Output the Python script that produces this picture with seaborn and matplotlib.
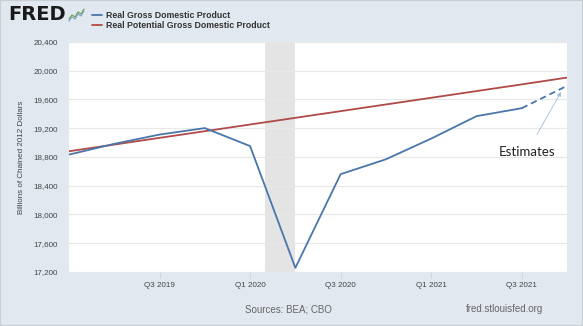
import matplotlib
matplotlib.use("Agg")
import matplotlib.pyplot as plt
import matplotlib.patches as mpatches
import seaborn as sns
import pandas as pd

# Quarterly data, Q1 2019 .. Q4 2021 (billions of chained 2012 dollars)
quarters = ["Q1 2019", "Q2 2019", "Q3 2019", "Q4 2019", "Q1 2020", "Q2 2020",
            "Q3 2020", "Q4 2020", "Q1 2021", "Q2 2021", "Q3 2021", "Q4 2021"]
real_gdp = [18833, 18983, 19112, 19202, 18952, 17258,
            18561, 18768, 19056, 19368, 19479]
gdp_estimate = [19479, 19790]          # Q3 2021 actual -> Q4 2021 estimate
potential_gdp = [18880, 18973, 19066, 19159, 19252, 19345,
                 19438, 19531, 19624, 19717, 19810, 19905]
tick_quarters = ["Q3 2019", "Q1 2020", "Q3 2020", "Q1 2021", "Q3 2021"]
y_ticks = [17200, 17600, 18000, 18400, 18800, 19200, 19600, 20000, 20400]
recession = (4 + 1/3, 5)               # Feb 2020 - Apr 2020

BLUE = "#4a76ab"
RED = "#b04a46"
BG = "#e1e8f0"
TXT = "#444444"

sns.set_theme(style="white")
plt.rcParams["font.family"] = ["Liberation Sans", "DejaVu Sans"]

W, H = 583, 326


def fx(px):
    return px / W


def fy(py):
    return 1 - py / H


idx = {q: i for i, q in enumerate(quarters)}
gdp_df = pd.DataFrame({"x": [idx[q] for q in quarters[:len(real_gdp)]], "y": real_gdp})
est_df = pd.DataFrame({"x": [idx["Q3 2021"], idx["Q4 2021"]], "y": gdp_estimate})
pot_df = pd.DataFrame({"x": list(range(len(quarters))), "y": potential_gdp})

fig = plt.figure(figsize=(W / 100, H / 100), dpi=100, facecolor=BG)
ax = fig.add_axes([fx(69), fy(272), (567 - 69) / W, (272 - 42) / H])
ax.set_facecolor("white")

ax.axvspan(*recession, color="#e4e4e4", lw=0, zorder=0)
for yv in y_ticks:
    ax.axhline(yv, color="#e8e8e8", lw=0.9, zorder=0.5)

sns.lineplot(data=pot_df, x="x", y="y", ax=ax, color=RED, lw=1.3, zorder=3)
sns.lineplot(data=gdp_df, x="x", y="y", ax=ax, color=BLUE, lw=1.3, zorder=4)
sns.lineplot(data=est_df, x="x", y="y", ax=ax, color=BLUE, lw=1.3, zorder=4,
             linestyle=(0, (3.5, 2.2)))

ax.set_xlim(0, len(quarters) - 1)
ax.set_ylim(y_ticks[0], y_ticks[-1])
ax.set_yticks(y_ticks)
ax.set_yticklabels([f"{v:,}" for v in y_ticks], fontsize=5.8, color=TXT)
ax.set_xticks([idx[q] for q in tick_quarters])
ax.set_xticklabels(tick_quarters, fontsize=5.8, color=TXT)
ax.tick_params(axis="x", length=4, width=0.6, color="#d0d6dc", pad=3, bottom=True)
ax.tick_params(axis="y", length=0, pad=8)
ax.set_xlabel("")
ax.set_ylabel("Billions of Chained 2012 Dollars", fontsize=5.8, color=TXT, labelpad=6)
for s in ax.spines.values():
    s.set_visible(False)

# Estimate annotation
ax.annotate("Estimates", xy=(fx(561), fy(92)), xycoords="figure fraction",
            xytext=(fx(527), fy(152)), textcoords="figure fraction",
            ha="center", va="center", fontsize=9.5, family=["Lato", "DejaVu Sans"],
            color="#222222",
            arrowprops=dict(arrowstyle="-|>", color="#9dbbe0", lw=0.6,
                            mutation_scale=6, shrinkA=7, shrinkB=0))

# Header: logo and legend
fig.text(fx(8), fy(15), "FRED", fontsize=14, fontweight="bold",
         color="#1a1a1a", va="center", ha="left", family=["DejaVu Sans"])
icon_x = [69, 72, 75, 78, 81, 84]
icon_y = [19, 15, 17, 12, 14, 9]
fig.add_artist(plt.Line2D([fx(v) for v in icon_x], [fy(v) for v in icon_y],
                          color="#6aa84f", lw=0.9))
fig.add_artist(plt.Line2D([fx(v) for v in icon_x], [fy(v + 2) for v in icon_y],
                          color="#7aa0c8", lw=0.8))
for yy, col, lab in [(15, BLUE, "Real Gross Domestic Product"),
                     (25, RED, "Real Potential Gross Domestic Product")]:
    fig.add_artist(plt.Line2D([fx(92), fx(102)], [fy(yy)] * 2, color=col, lw=1.3))
    fig.text(fx(106), fy(yy), lab, fontsize=6.3, fontweight="bold",
             color="#333333", va="center", ha="left")

# Footer
fig.text(fx(288), fy(309), "Sources: BEA; CBO", fontsize=7, color="#666666",
         ha="center", va="center")
fig.text(fx(504), fy(309), "fred.stlouisfed.org", fontsize=7, color="#666666",
         ha="center", va="center")

fig.add_artist(mpatches.Rectangle((0, 0), 1, 1, transform=fig.transFigure,
                                  fill=False, edgecolor="#c9ced4", lw=1.5))

fig.savefig("out.png", dpi=100, facecolor=BG)
